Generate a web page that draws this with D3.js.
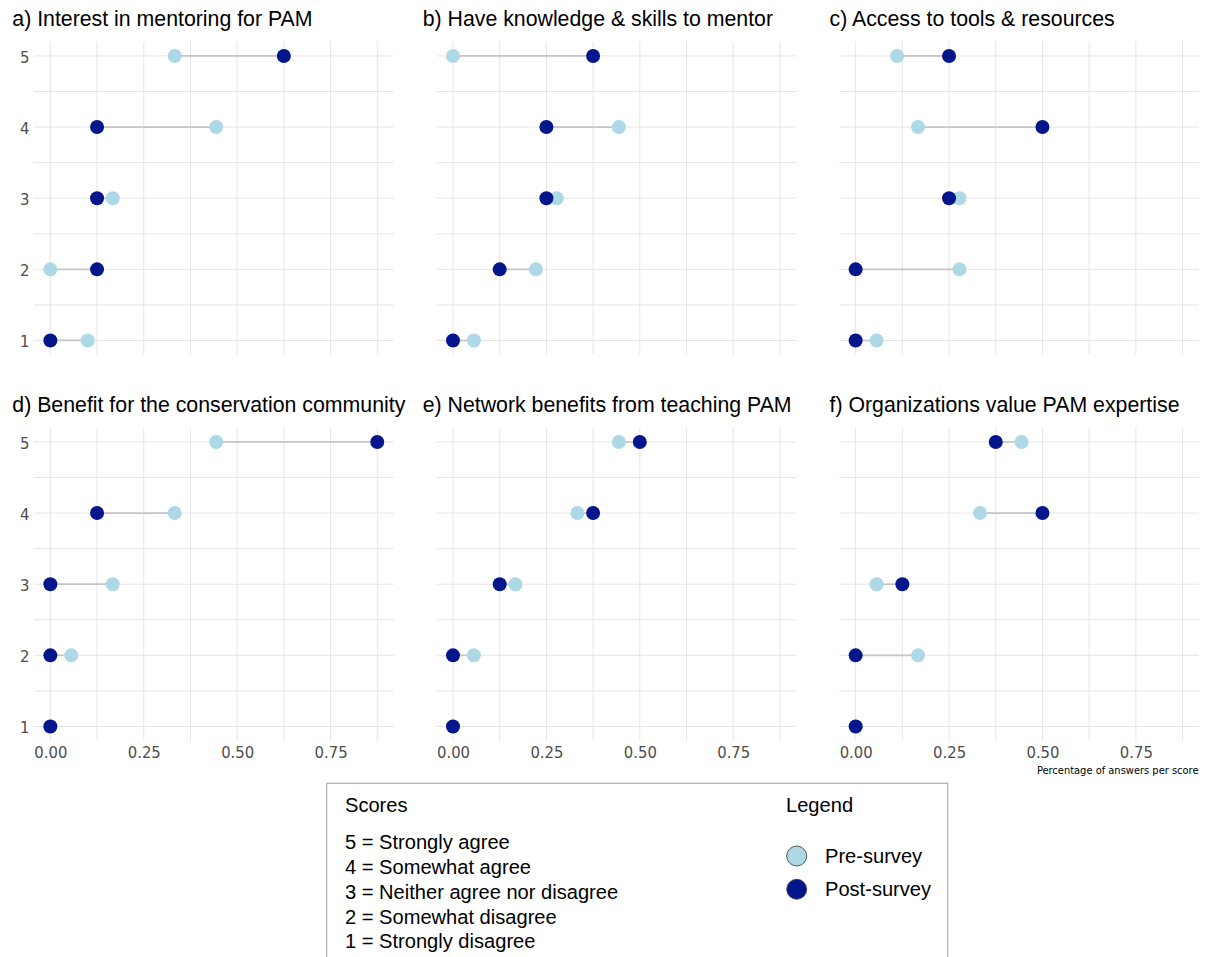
<!DOCTYPE html>
<html>
<head>
<meta charset="utf-8">
<script src="https://cdn.jsdelivr.net/npm/d3@7"></script>
<style>
  html, body { margin: 0; padding: 0; background: #fff; }
  svg { display: block; }
  .title { font-family: "Liberation Sans", Arial, Helvetica, sans-serif; font-size: 21.3px; fill: #000; }
  .tick text { font-family: "Liberation Sans Narrow", "DejaVu Sans Condensed", "Liberation Sans", sans-serif; font-size: 16.5px; fill: #4d4d4d; }
  .legtext { font-family: "Liberation Sans", Arial, Helvetica, sans-serif; font-size: 20.1px; fill: #000; }
  .xlab { font-family: "Liberation Sans Narrow", "DejaVu Sans Condensed", "Liberation Sans", sans-serif; font-size: 11px; fill: #000; }
</style>
</head>
<body>
<svg id="chart" width="1210" height="957"></svg>
<script>
// ---------------- data ----------------
const scores = [5, 4, 3, 2, 1];
const panelTitles = [
  "a) Interest in mentoring for PAM",
  "b) Have knowledge & skills to mentor",
  "c) Access to tools & resources",
  "d) Benefit for the conservation community",
  "e) Network benefits from teaching PAM",
  "f) Organizations value PAM expertise"
];
// values ordered by score 5,4,3,2,1
const preA  = [0.333, 0.444, 0.167, 0.000, 0.100];
const postA = [0.625, 0.125, 0.125, 0.125, 0.000];
const preB  = [0.000, 0.444, 0.278, 0.222, 0.056];
const postB = [0.375, 0.250, 0.250, 0.125, 0.000];
const preC  = [0.111, 0.167, 0.278, 0.278, 0.056];
const postC = [0.250, 0.500, 0.250, 0.000, 0.000];
const preD  = [0.444, 0.333, 0.167, 0.056, 0.000];
const postD = [0.875, 0.125, 0.000, 0.000, 0.000];
const preE  = [0.444, 0.333, 0.167, 0.056, 0.000];
const postE = [0.500, 0.375, 0.125, 0.000, 0.000];
const preF  = [0.444, 0.333, 0.056, 0.167, 0.000];
const postF = [0.375, 0.500, 0.125, 0.000, 0.000];
const preSeries  = [preA, preB, preC, preD, preE, preF];
const postSeries = [postA, postB, postC, postD, postE, postF];
const xTickValues = [0, 0.25, 0.5, 0.75];
const xMinorValues = [0.125, 0.375, 0.625, 0.875];
const yMinorValues = [1.5, 2.5, 3.5, 4.5];
const scoreLabels = [
  "5 = Strongly agree",
  "4 = Somewhat agree",
  "3 = Neither agree nor disagree",
  "2 = Somewhat disagree",
  "1 = Strongly disagree"
];
const seriesNames = ["Pre-survey", "Post-survey"];
const seriesColors = ["#add8e6", "#04168c"];

// ---------------- layout ----------------
const svg = d3.select("#chart");
const colLeft = [34, 436.65, 839.3];
const rowTop = [41.7, 427.7];
const panelW = 359.6, panelH = 313;
const titleX = [12.3, 422.7, 829.5];
const titleBase = [26, 411.7];
const maxV = 0.875;
const xDomain = [-maxV * 0.05, maxV * 1.05];
const yDomain = [1 - 0.2, 5 + 0.2];

const gridColor = "#e5e5e5";

panelTitles.forEach((title, i) => {
  const col = i % 3, row = Math.floor(i / 3);
  const L = colLeft[col], T = rowTop[row];
  const x = d3.scaleLinear().domain(xDomain).range([L, L + panelW]);
  const y = d3.scaleLinear().domain(yDomain).range([T + panelH, T]);
  const g = svg.append("g");

  // grid
  const allX = xTickValues.concat(xMinorValues);
  g.selectAll("line.vg").data(allX).join("line")
    .attr("x1", d => x(d)).attr("x2", d => x(d))
    .attr("y1", T).attr("y2", T + panelH)
    .attr("stroke", gridColor).attr("stroke-width", 1);
  const allY = scores.concat(yMinorValues);
  g.selectAll("line.hg").data(allY).join("line")
    .attr("x1", L).attr("x2", L + panelW)
    .attr("y1", d => y(d)).attr("y2", d => y(d))
    .attr("stroke", gridColor).attr("stroke-width", 1);

  // title
  svg.append("text").attr("class", "title")
    .attr("x", titleX[col]).attr("y", titleBase[row]).text(title);

  // axes
  if (row === 1) {
    const ax = svg.append("g").attr("transform", `translate(0,${T + panelH})`)
      .call(d3.axisBottom(x).tickValues(xTickValues).tickFormat(d3.format(".2f")).tickSize(0));
    ax.select(".domain").remove();
    ax.selectAll("text").attr("dy", null).attr("y", 17.6);
  }
  if (col === 0) {
    const ay = svg.append("g").attr("transform", `translate(${L},0)`)
      .call(d3.axisLeft(y).tickValues(scores).tickFormat(d3.format("d")).tickSize(0).tickPadding(4.5));
    ay.select(".domain").remove();
    ay.selectAll("text").attr("dy", "0.38em");
  }

  const pre = preSeries[i], post = postSeries[i];
  const rows = scores.map((s, k) => ({ s, pre: pre[k], post: post[k] }));

  // segments
  g.selectAll("line.seg").data(rows).join("line")
    .attr("x1", d => x(d.pre)).attr("x2", d => x(d.post))
    .attr("y1", d => y(d.s)).attr("y2", d => y(d.s))
    .attr("stroke", "#c6c6c6").attr("stroke-width", 1.7);

  // points
  g.selectAll("circle.pre").data(rows).join("circle")
    .attr("cx", d => x(d.pre)).attr("cy", d => y(d.s)).attr("r", 7)
    .attr("fill", seriesColors[0]);
  g.selectAll("circle.post").data(rows).join("circle")
    .attr("cx", d => x(d.post)).attr("cy", d => y(d.s)).attr("r", 7)
    .attr("fill", seriesColors[1]);
});

// x axis label
svg.append("text").attr("class", "xlab")
  .attr("x", 1198.5).attr("y", 774).attr("text-anchor", "end")
  .text("Percentage of answers per score");

// ---------------- legend box ----------------
const box = svg.append("g");
box.append("rect")
  .attr("x", 326.7).attr("y", 783.3).attr("width", 621).attr("height", 200)
  .attr("fill", "#fff").attr("stroke", "#aab3ba").attr("stroke-width", 1.2);

box.append("text").attr("class", "legtext").attr("x", 345).attr("y", 811.7).text("Scores");
box.selectAll("text.sl").data(scoreLabels).join("text")
  .attr("class", "legtext")
  .attr("x", 345).attr("y", (d, k) => 849.3 + k * 24.75)
  .text(d => d);

box.append("text").attr("class", "legtext").attr("x", 786).attr("y", 811.7).text("Legend");
box.selectAll("circle.lg").data(seriesNames).join("circle")
  .attr("cx", 796.7).attr("cy", (d, k) => 856 + k * 33.3).attr("r", 10)
  .attr("fill", (d, k) => seriesColors[k])
  .attr("stroke", "#333").attr("stroke-width", 0.8);
box.selectAll("text.lt").data(seriesNames).join("text")
  .attr("class", "legtext")
  .attr("x", 825).attr("y", (d, k) => 863 + k * 33.3)
  .text(d => d);
</script>
</body>
</html>
